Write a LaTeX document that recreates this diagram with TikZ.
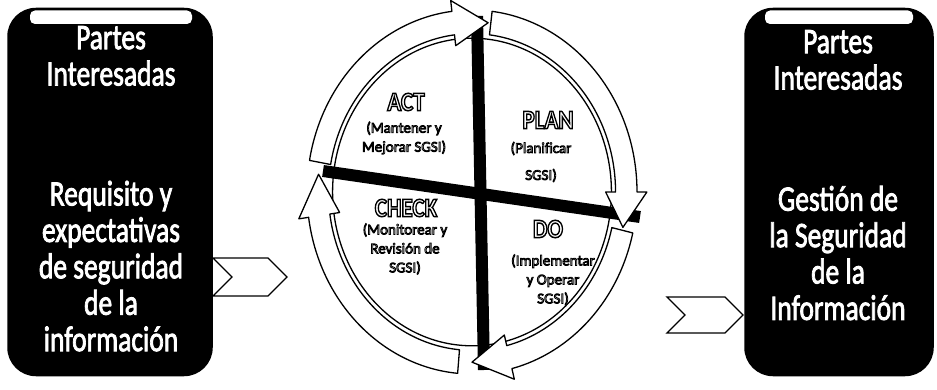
\documentclass[tikz,border=0pt]{standalone}
\usepackage{fontspec}
\setmainfont{Carlito}
\usepackage{graphicx}
\usetikzlibrary{shapes.symbols}
\newcommand\boxlines[1]{\special{pdf:literal 2 Tr 0.7 w 1 g 1 G}\scalebox{1}[1.3]{\fontsize{27.5}{28}\selectfont\begin{tabular}{@{}c@{}}#1\end{tabular}}\special{pdf:literal 0 Tr 0 g 0 G}}
\newcommand\outlined[2]{\special{pdf:literal 2 Tr #2 w 1 g 0 G}#1\special{pdf:literal 0 Tr 0 g 0 G}}
\newcommand\qtitle[1]{\scalebox{1}[1.15]{\bfseries\outlined{#1}{1.3}}}
\newcommand\qsubl[1]{\outlined{#1}{0.8}}
\newcommand\ringarrow[3]{%
  \filldraw[ringstyle] (#1:1) arc[start angle=#1, end angle=#2, radius=1]
    -- (#2:1.06) -- (#3:0.935) -- (#2:0.81) -- (#2:0.87)
    arc[start angle=#2, end angle=#1, radius=0.87] -- cycle;}
\begin{document}
\begin{tikzpicture}[x=1pt,y=-1pt,
  sidebox/.style={draw=black, fill=black, rounded corners=28pt, line width=1.5pt, minimum width=204pt, minimum height=367pt, inner sep=0pt},
  boxtext/.style={text=white, inner sep=0pt, align=center},
  chev/.style={signal, signal from=west, signal to=east, draw=black, fill=white, line width=1.3pt, inner sep=0pt},
  ringstyle/.style={draw=black, fill=white, line width=1.3pt, line join=round},
  bar/.style={draw=black, line width=12pt},
  qtitlestyle/.style={inner sep=0pt, font=\fontsize{23}{23}\selectfont},
  qsubstyle/.style={inner sep=0pt, align=center, font=\fontsize{15}{19}\selectfont}
]
\useasboundingbox (0,0) rectangle (937,390);

% side boxes
\node[sidebox] (lbox) at (110,192) {};
\node[sidebox, minimum width=188pt] (rbox) at (839,192) {};
\fill[white, rounded corners=5pt] (30,10.5) rectangle (192,24);
\fill[white, rounded corners=5pt] (765,10.5) rectangle (913,24);

\node[boxtext] (ltop) at (111,60) {\boxlines{Partes\\Interesadas}};
\node[boxtext] (lbot) at (111,271) {\boxlines{Requisito y\\expectativas\\de seguridad\\de la\\información}};
\node[boxtext] (rtop) at (838,64) {\boxlines{Partes\\Interesadas}};
\node[boxtext] (rbot) at (838,258) {\boxlines{Gestión de\\la Seguridad\\de la\\Información}};

% chevrons
\node[chev, minimum width=74pt, minimum height=38pt] (lchev) at (250,277) {};
\node[chev, minimum width=76pt, minimum height=36pt] (rchev) at (705,315) {};

% PDCA circle
\coordinate (cc) at (472,192);
\begin{scope}[shift={(472,192)}, xscale=165, yscale=-182]
  \filldraw[draw=black, fill=white, line width=1.3pt] (0,0) circle[radius=0.845];
\end{scope}
\coordinate (hbl) at (323,171);
\coordinate (hbr) at (640,217);
\coordinate (vbt) at (477,16);
\coordinate (vbb) at (484,370);
\draw[bar] (hbl) -- (hbr);
\draw[bar] (vbt) -- (vbb);
\begin{scope}[shift={(472,192)}, xscale=165, yscale=-182]
  \ringarrow{170}{97}{84}
  \ringarrow{83}{0}{-12}
  \ringarrow{-13}{-76}{-90}
  \ringarrow{265}{188}{174}
\end{scope}

% quadrant labels
\node[qtitlestyle] (act) at (406,102) {\qtitle{ACT}};
\node[qsubstyle] (acts) at (404,138) {\qsubl{(Mantener y}\\\qsubl{Mejorar SGSI)}};
\node[qtitlestyle] (plan) at (548,120) {\qtitle{PLAN}};
\node[qsubstyle] (plans) at (541,162) {\qsubl{(Planificar}\\[8pt]\qsubl{SGSI)}};
\node[qtitlestyle] (check) at (406,208) {\qtitle{CHECK}};
\node[qsubstyle] (checks) at (405,249) {\qsubl{(Monitorear y}\\\qsubl{Revisión de}\\\qsubl{SGSI)}};
\node[qtitlestyle] (do) at (548,229) {\qtitle{DO}};
\node[qsubstyle] (dos) at (553,280) {\qsubl{(Implementar}\\\qsubl{y Operar}\\\qsubl{SGSI)}};
\end{tikzpicture}
\end{document}
